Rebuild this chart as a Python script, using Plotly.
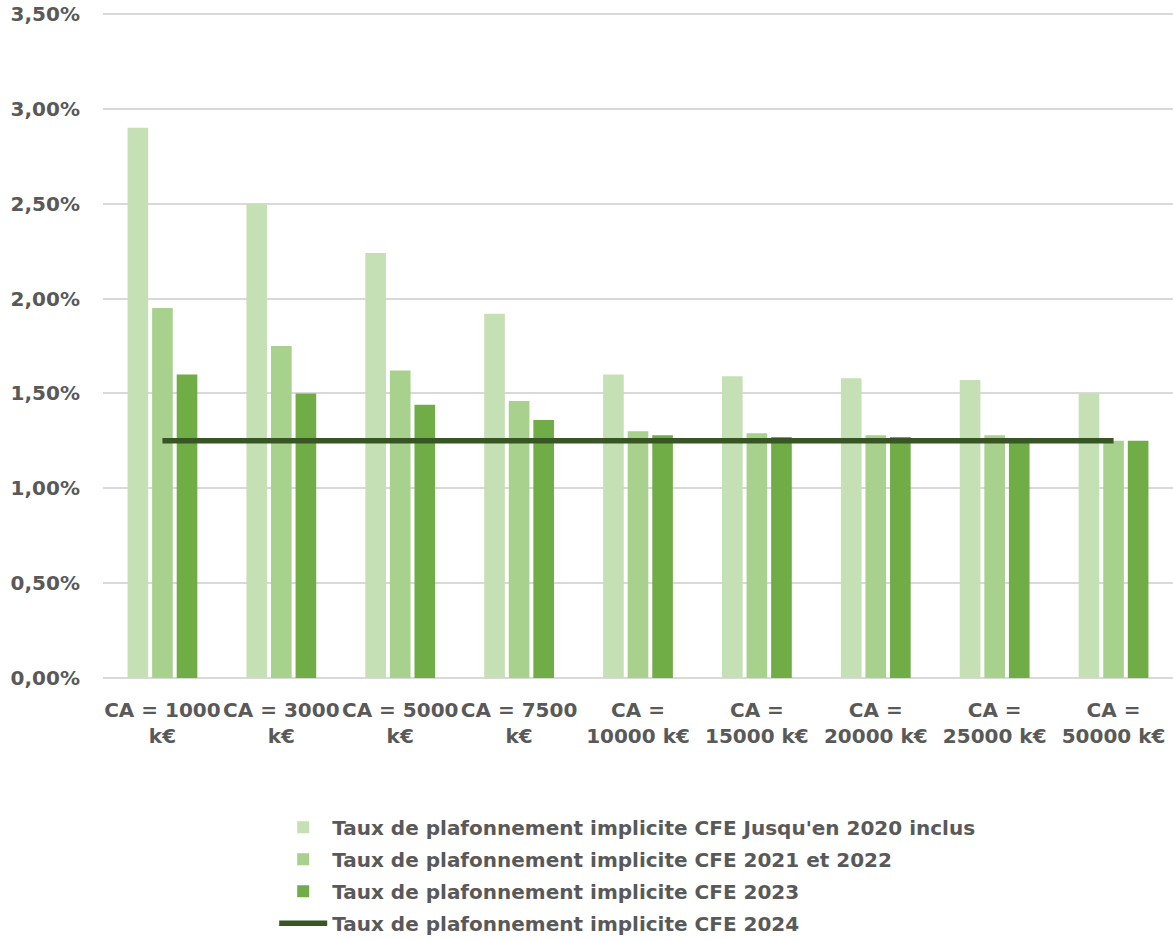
import plotly.graph_objects as go

categories = ["CA = 1000<br>k€", "CA = 3000<br>k€", "CA = 5000<br>k€", "CA = 7500<br>k€",
              "CA =<br>10000 k€", "CA =<br>15000 k€", "CA =<br>20000 k€", "CA =<br>25000 k€", "CA =<br>50000 k€"]
taux_2020 = [0.0290, 0.0250, 0.0224, 0.0192, 0.0160, 0.0159, 0.0158, 0.0157, 0.0150]
taux_2021_2022 = [0.0195, 0.0175, 0.0162, 0.0146, 0.0130, 0.0129, 0.0128, 0.0128, 0.0125]
taux_2023 = [0.0160, 0.0150, 0.0144, 0.0136, 0.0128, 0.0127, 0.0127, 0.0126, 0.0125]
taux_2024 = [0.0125] * 9

names = ["Taux de plafonnement implicite CFE Jusqu'en 2020 inclus",
         "Taux de plafonnement implicite CFE 2021 et 2022",
         "Taux de plafonnement implicite CFE 2023",
         "Taux de plafonnement implicite CFE 2024"]
colors = ["#C5E0B4", "#A9D18E", "#70AD47", "#375623"]

FONT = "DejaVu Sans"
TXT = "#595959"

fig = go.Figure()
for i, (vals, nm, col) in enumerate(zip([taux_2020, taux_2021_2022, taux_2023], names[:3], colors[:3])):
    fig.add_trace(go.Bar(x=categories, y=vals, name=nm, legendgroup=f"g{i}",
                         marker=dict(color=col, line=dict(width=0))))
fig.add_trace(go.Scatter(x=categories, y=taux_2024, name=names[3], mode="lines", legendgroup="g3",
                         line=dict(color=colors[3], width=5.5)))

fig.update_layout(
    width=1173, height=940,
    paper_bgcolor="white", plot_bgcolor="white",
    separators=", ",
    margin=dict(l=103, r=0, t=12, b=262, autoexpand=False),
    barmode="group", bargap=0.38, bargroupgap=0.16,
    font=dict(family=FONT, size=20, color=TXT),
    legend=dict(orientation="v", x=0.16, xanchor="left", y=-0.195, yanchor="top",
                font=dict(family=FONT, size=20, color=TXT, weight="bold"),
                tracegroupgap=3, itemwidth=48, bgcolor="rgba(0,0,0,0)"),
    showlegend=True,
)
fig.update_yaxes(range=[0, 0.0351], tickvals=[0, 0.005, 0.01, 0.015, 0.02, 0.025, 0.03, 0.035],
                 tickformat=".2%", ticklabeloverflow="allow",
                 showgrid=True, gridcolor="#D9D9D9", gridwidth=1.5,
                 zeroline=True, zerolinecolor="#D9D9D9", zerolinewidth=1.5,
                 showline=False, ticks="", ticklabelstandoff=22,
                 tickfont=dict(family=FONT, size=20, color=TXT, weight="bold"))
fig.update_xaxes(showgrid=False, showline=False, ticks="", ticklabelstandoff=18,
                 tickangle=0, ticklabeloverflow="allow",
                 tickfont=dict(family=FONT, size=20, color=TXT, weight="bold"))

fig.write_html("out.html", config={"displayModeBar": False},
               post_script="document.body.style.margin='0';")
